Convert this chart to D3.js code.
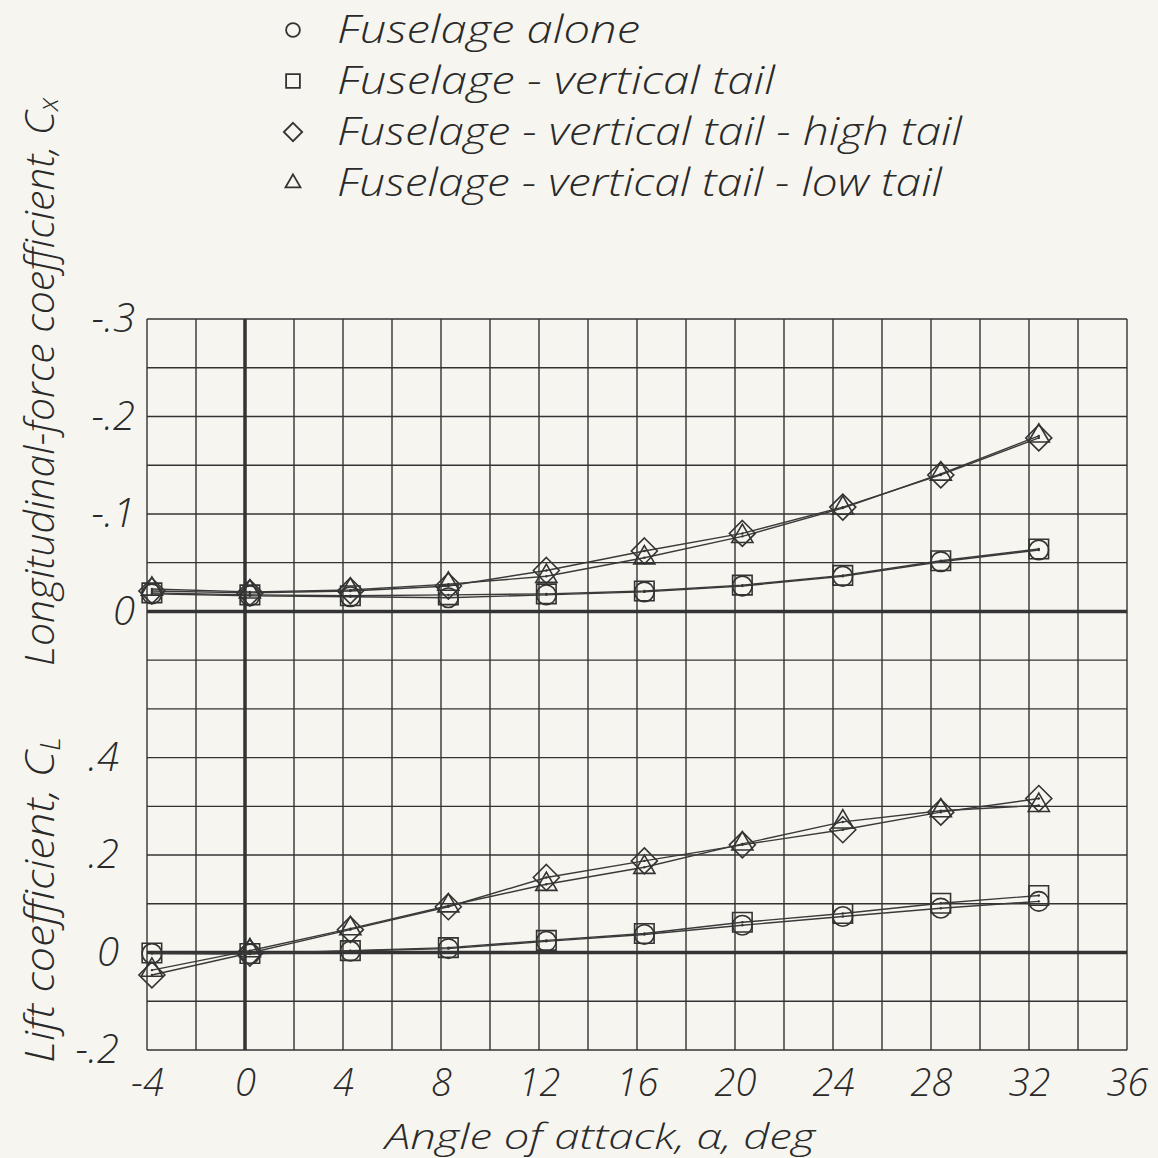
<!DOCTYPE html>
<html>
<head>
<meta charset="utf-8">
<script src="https://cdn.jsdelivr.net/npm/d3@7"></script>
<style>
  html, body { margin: 0; padding: 0; background: #f6f5ef; }
  svg text { font-family: "Open Sans", "DejaVu Sans", sans-serif; font-style: italic; font-weight: 300; fill: #2a2a2a; }
</style>
</head>
<body>
<svg id="chart" width="1158" height="1158"></svg>
<script>
// angle of attack, deg (test points plotted slightly right of the even values)
const alphas = [-3.8, 0.2, 4.3, 8.3, 12.3, 16.3, 20.3, 24.4, 28.4, 32.4];

// longitudinal-force coefficient Cx
const cxFuselage = [-0.018, -0.016, -0.015, -0.014, -0.017, -0.020, -0.026, -0.036, -0.051, -0.063];
const cxVertTail = [-0.019, -0.017, -0.016, -0.017, -0.018, -0.021, -0.027, -0.037, -0.052, -0.064];
const cxHighTail = [-0.021, -0.019, -0.021, -0.026, -0.042, -0.062, -0.080, -0.107, -0.140, -0.178];
const cxLowTail  = [-0.023, -0.020, -0.022, -0.028, -0.036, -0.055, -0.077, -0.106, -0.141, -0.180];

// lift coefficient CL
const clFuselage = [-0.002, -0.003, 0.003, 0.008, 0.023, 0.037, 0.056, 0.074, 0.091, 0.105];
const clVertTail = [-0.001, -0.002, 0.004, 0.010, 0.025, 0.039, 0.062, 0.080, 0.101, 0.117];
const clHighTail = [-0.046, -0.001, 0.047, 0.094, 0.154, 0.188, 0.221, 0.252, 0.288, 0.316];
const clLowTail  = [-0.036, 0.004, 0.049, 0.096, 0.140, 0.175, 0.223, 0.268, 0.291, 0.302];

const seriesNames = ['Fuselage alone', 'Fuselage - vertical tail',
  'Fuselage - vertical tail - high tail', 'Fuselage - vertical tail - low tail'];
const seriesSymbols = ['circle', 'square', 'diamond', 'triangle'];

const xTicks = [-4, 0, 4, 8, 12, 16, 20, 24, 28, 32, 36];
const cxTicks = [-0.3, -0.2, -0.1, 0];
const clTicks = [-0.2, 0, 0.2, 0.4];

const ink = '#333';
const svg = d3.select('#chart');

const x = d3.scaleLinear().domain([-4, 36]).range([147, 1127]);
const yCx = d3.scaleLinear().domain([0.45, -0.3]).range([1050, 319]);
const yCl = d3.scaleLinear().domain([-0.2, 1.3]).range([1050, 319]);

// grid
const grid = svg.append('g');
grid.selectAll('line.v')
  .data(d3.range(-4, 37, 2))
  .enter().append('line')
  .attr('x1', d => x(d)).attr('x2', d => x(d))
  .attr('y1', yCl(1.3)).attr('y2', yCl(-0.2))
  .attr('stroke', ink).attr('stroke-width', d => d === 0 ? 3.5 : 1.4);
grid.selectAll('line.h')
  .data(d3.range(-2, 14).map(d => d / 10))
  .enter().append('line')
  .attr('x1', x(-4)).attr('x2', x(36))
  .attr('y1', d => yCl(d)).attr('y2', d => yCl(d))
  .attr('stroke', ink).attr('stroke-width', 1.4);
grid.append('line')
  .attr('x1', x(-4)).attr('x2', x(36))
  .attr('y1', yCx(0)).attr('y2', yCx(0))
  .attr('stroke', ink).attr('stroke-width', 3.5);
grid.append('line')
  .attr('x1', x(-4)).attr('x2', x(36))
  .attr('y1', yCl(0)).attr('y2', yCl(0))
  .attr('stroke', ink).attr('stroke-width', 3.5);

// tick labels via d3 axes
function styleAxis(g, size) {
  g.select('.domain').remove();
  g.selectAll('.tick line').remove();
  g.selectAll('text')
    .attr('font-size', size)
    .attr('fill', '#2a2a2a')
    .style('font-family', '"Open Sans", "DejaVu Sans", sans-serif')
    .style('font-style', 'italic')
    .style('font-weight', 300);
}
const fmtDec = d => d === 0 ? '0' : (d < 0 ? '-' : '') + '.' + Math.round(Math.abs(d) * 10);

svg.append('g')
  .attr('transform', `translate(0,${yCl(-0.2)})`)
  .call(d3.axisBottom(x).tickValues(xTicks).tickSize(0).tickPadding(19).tickFormat(d => String(d)))
  .call(g => styleAxis(g, 38));

svg.append('g')
  .attr('transform', `translate(${x(-4)},0)`)
  .call(d3.axisLeft(yCx).tickValues(cxTicks).tickSize(0).tickPadding(12).tickFormat(fmtDec))
  .call(g => styleAxis(g, 40));

svg.append('g')
  .attr('transform', `translate(${x(-4)},0)`)
  .call(d3.axisLeft(yCl).tickValues(clTicks).tickSize(0).tickPadding(28).tickFormat(fmtDec))
  .call(g => styleAxis(g, 40));

// axis titles
svg.append('text')
  .attr('x', 600).attr('y', 1149)
  .attr('text-anchor', 'middle')
  .attr('font-size', 35)
  .attr('textLength', 430).attr('lengthAdjust', 'spacingAndGlyphs')
  .text('Angle of attack, \u03b1, deg');

const cxTitle = svg.append('text')
  .attr('transform', 'translate(54,382) rotate(-90)')
  .attr('text-anchor', 'middle')
  .attr('font-size', 40);
cxTitle.append('tspan')
  .attr('textLength', 555).attr('lengthAdjust', 'spacingAndGlyphs')
  .text('Longitudinal-force coefficient, C');
cxTitle.append('tspan').attr('font-size', 28).attr('dy', 4).text('x');

const clTitle = svg.append('text')
  .attr('transform', 'translate(54,900) rotate(-90)')
  .attr('text-anchor', 'middle')
  .attr('font-size', 40);
clTitle.append('tspan')
  .attr('textLength', 312).attr('lengthAdjust', 'spacingAndGlyphs')
  .text('Lift coefficient, C');
clTitle.append('tspan').attr('font-size', 28).attr('dy', 6).text('L');

// symbols
const symbolTypes = {
  circle: d3.symbolCircle, square: d3.symbolSquare,
  diamond: d3.symbolDiamond2, triangle: d3.symbolTriangle2
};
const symbolSizes = { circle: 300, square: 380, diamond: 430, triangle: 320 };

function drawSeries(values, yScale, sym) {
  const pts = alphas.map((a, i) => [x(a), yScale(values[i])]);
  svg.append('path')
    .attr('d', d3.line()(pts))
    .attr('fill', 'none').attr('stroke', '#3a3a3a').attr('stroke-width', 1.4);
  const g = svg.append('g');
  g.selectAll('path')
    .data(pts).enter().append('path')
    .attr('transform', d => `translate(${d[0]},${d[1]})`)
    .attr('d', d3.symbol(symbolTypes[sym], symbolSizes[sym]))
    .attr('fill', 'none').attr('stroke', ink).attr('stroke-width', 1.6);
  g.selectAll('circle')
    .data(pts).enter().append('circle')
    .attr('cx', d => d[0]).attr('cy', d => d[1]).attr('r', 1.2)
    .attr('fill', ink);
}

const cxSeries = [cxFuselage, cxVertTail, cxHighTail, cxLowTail];
const clSeries = [clFuselage, clVertTail, clHighTail, clLowTail];
cxSeries.forEach((s, i) => drawSeries(s, yCx, seriesSymbols[i]));
clSeries.forEach((s, i) => drawSeries(s, yCl, seriesSymbols[i]));

// legend
const legendWidths = [303, 438, 625, 605];
const legend = svg.append('g');
seriesNames.forEach((name, i) => {
  const cy = 30 + i * 51;
  legend.append('path')
    .attr('transform', `translate(293,${cy})`)
    .attr('d', d3.symbol(symbolTypes[seriesSymbols[i]], symbolSizes[seriesSymbols[i]] * 0.5))
    .attr('fill', 'none').attr('stroke', ink).attr('stroke-width', 1.8);
  legend.append('text')
    .attr('x', 337).attr('y', cy + 13)
    .attr('font-size', 38)
    .attr('textLength', legendWidths[i]).attr('lengthAdjust', 'spacingAndGlyphs')
    .text(name);
});
</script>
</body>
</html>
